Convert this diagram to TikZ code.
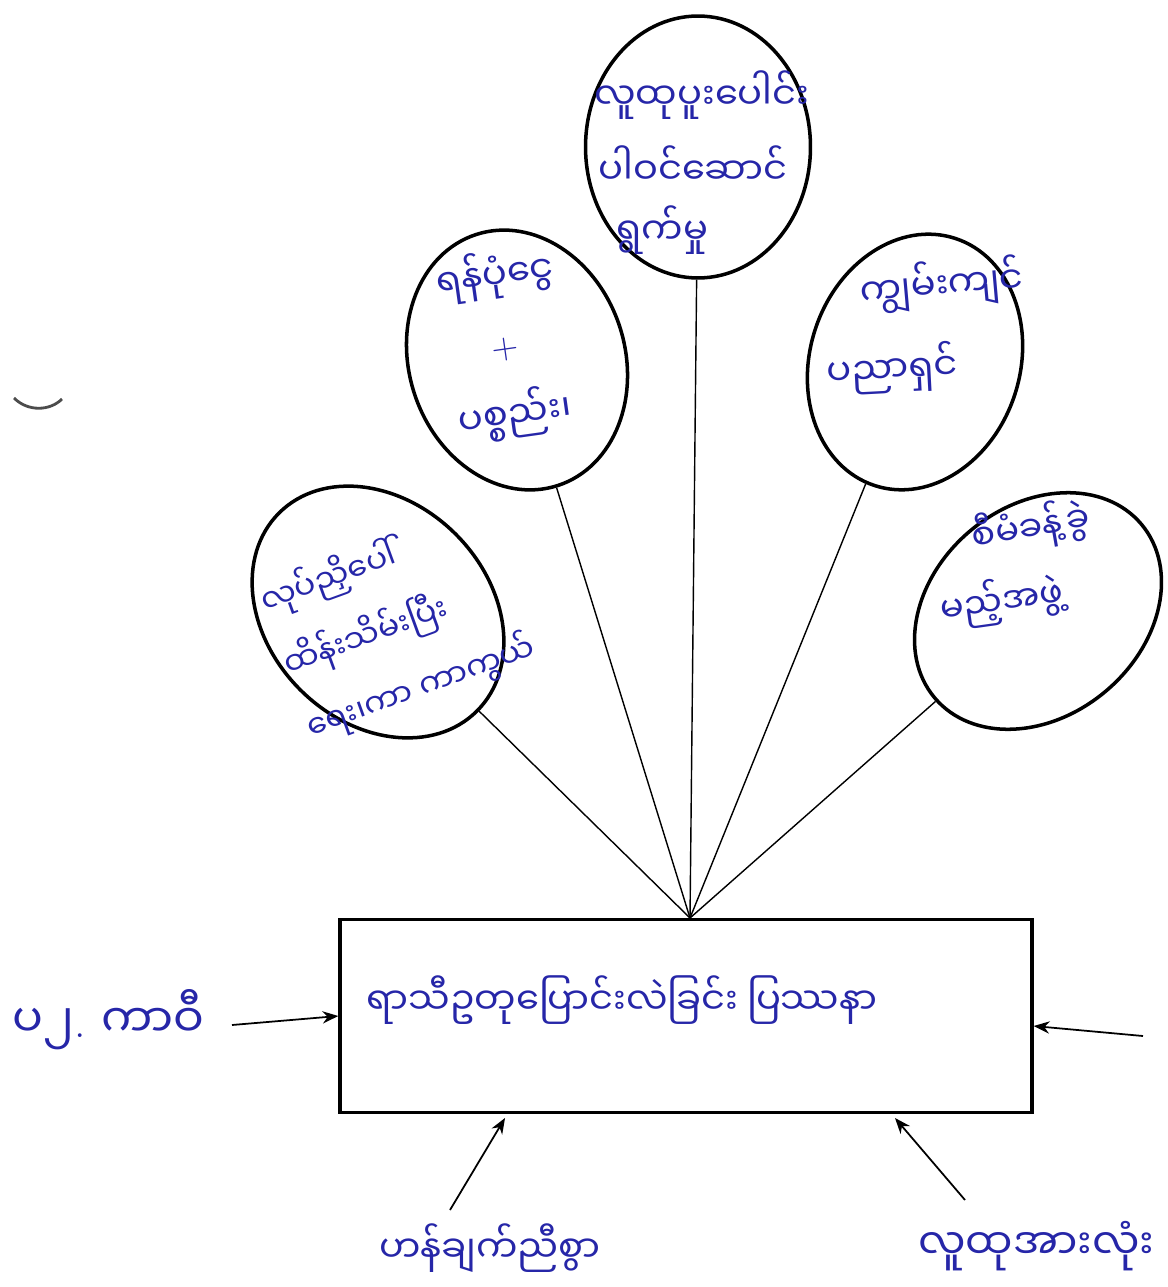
\documentclass[tikz,border=0pt]{standalone}
\usepackage{fontspec}
\newfontfamily\mya[Script=Myanmar]{Noto Sans Myanmar UI}
\usetikzlibrary{shapes.geometric,arrows.meta}
\definecolor{handblue}{RGB}{38,38,168}
\begin{document}
\begin{tikzpicture}[x=0.02cm,y=-0.02cm,
    bubble/.style={draw,ellipse,line width=2pt,inner sep=0pt},
    hand/.style={text=handblue,font=\mya\fontsize{21}{40}\selectfont,inner sep=0pt},
    small/.style={hand,font=\mya\fontsize{18}{38}\selectfont},
    spoke/.style={line width=0.8pt},
    arr/.style={->,>={Stealth[length=9pt,width=7pt]},line width=1pt}]
  \useasboundingbox (0,0) rectangle (1168,1287);
  % bubbles
  \node[bubble,minimum width=4.5cm,minimum height=5.24cm] (top) at (698,147) {};
  \node[bubble,minimum width=4.32cm,minimum height=5.28cm,rotate=18] (fund) at (517,360) {};
  \node[bubble,minimum width=4.2cm,minimum height=5.2cm,rotate=-18] (expert) at (915,362) {};
  \node[bubble,minimum width=5.6cm,minimum height=4.4cm,rotate=-45] (keep) at (378,612) {};
  \node[bubble,minimum width=5.4cm,minimum height=4.2cm,rotate=40] (team) at (1038,611) {};
  \node[hand,anchor=west] (top1) at (594,95) {လူထုပူးပေါင်း};
  \node[hand,anchor=west] (top2) at (598,165) {ပါဝင်ဆောင်};
  \node[hand,anchor=west] (top3) at (616,230) {ရွက်မှု};
  \node[hand,align=center,rotate=8] (fundtxt) at (505,345) {ရန်ပုံငွေ\\{\rmfamily +}\\ပစ္စည်း၊};
  \node[hand,anchor=west,rotate=5] (expert1) at (860,292) {ကျွမ်းကျင်};
  \node[hand,anchor=west,rotate=3] (expert2) at (826,372) {ပညာရှင်};
  \node[small,align=left,rotate=20] (keeptxt) at (398,625) {လုပ်ညှိပေါ်\\ထိန်းသိမ်းပြီး\\ရေး၊ကာ ကာကွယ်};
  \node[hand,font=\mya\fontsize{20}{34}\selectfont,anchor=west,rotate=10] (team1) at (972,538) {စီမံခန့်ခွဲ};
  \node[hand,font=\mya\fontsize{20}{34}\selectfont,anchor=west,rotate=8] (team2) at (940,610) {မည့်အဖွဲ့};
  % problem box
  \node[draw,line width=2pt,minimum width=13.84cm,minimum height=3.86cm,inner sep=0pt] (box) at (686,1016) {};
  \node[hand] (boxtxt) at (622,1000) {ရာသီဥတုပြောင်းလဲခြင်း ပြဿနာ};
  \coordinate (hub) at (690,918);
  \draw[spoke] (hub) -- (keep);
  \draw[spoke] (hub) -- (fund);
  \draw[spoke] (hub) -- (top);
  \draw[spoke] (hub) -- (expert);
  \draw[spoke] (hub) -- (team);
  % inputs
  \node[hand,font=\mya\fontsize{26}{30}\selectfont,anchor=west] (left) at (12,1020) {ပ၂{\rmfamily .} ကာဝီ};
  \node[hand] (bl) at (490,1248) {ဟန်ချက်ညီစွာ};
  \node[hand,font=\mya\fontsize{24}{30}\selectfont,anchor=west] (br) at (918,1246) {လူထုအားလုံး};
  \coordinate (lt) at (232,1025);
  \coordinate (rt) at (1143,1036);
  \coordinate (blt) at (450,1210);
  \coordinate (brt) at (965,1200);
  \coordinate (ble) at (505,1118);
  \coordinate (bre) at (895,1118);
  \draw[arr] (lt) -- (box.west);
  \draw[arr] (rt) -- ([yshift=-0.2cm]box.east);
  \draw[arr] (blt) -- (ble);
  \draw[arr] (brt) -- (bre);
  \draw[line width=1.6pt,black!70] (14,398) .. controls (28,412) and (50,411) .. (62,399);
\end{tikzpicture}
\end{document}
